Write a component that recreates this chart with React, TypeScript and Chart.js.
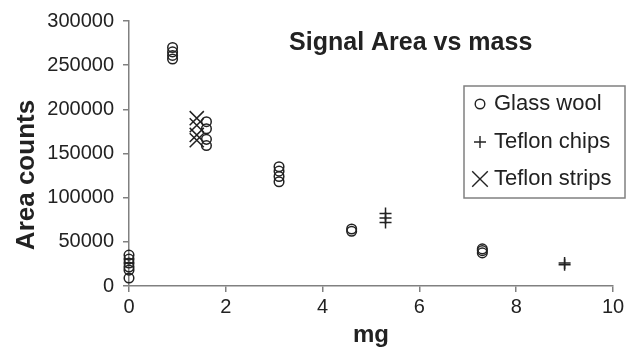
import React, { useEffect, useRef } from "react";
import { Chart, registerables } from "chart.js";

Chart.register(...registerables);

const chartTitle = "Signal Area vs mass";
const xAxisTitle = "mg";
const yAxisTitle = "Area counts";

const glassWoolMass = [0, 0, 0, 0, 0, 0, 0.9, 0.9, 0.9, 0.9, 1.6, 1.6, 1.6, 1.6, 3.1, 3.1, 3.1, 3.1, 4.6, 4.6, 7.3, 7.3, 7.3];
const glassWoolArea = [9000, 18000, 21500, 26000, 30500, 35000, 257000, 261000, 265000, 270000, 159000, 166000, 178000, 186000, 118000, 124000, 130000, 135000, 62000, 64500, 37500, 40000, 42000];
const teflonChipsMass = [5.3, 5.3, 5.3, 9.0, 9.0];
const teflonChipsArea = [72000, 77000, 82000, 24000, 26000];
const teflonStripsMass = [1.4, 1.4, 1.4, 1.4];
const teflonStripsArea = [165000, 171000, 182000, 190000];

const seriesLabels = ["Glass wool", "Teflon chips", "Teflon strips"];

const xMin = 0, xMax = 10, xStep = 2;
const yMin = 0, yMax = 300000, yStep = 50000;

const INK = "#222222";
const AXIS = "#808080";
const FONT = "'Liberation Sans', Arial, sans-serif";

function toPoints(xs: number[], ys: number[]) {
  return xs.map((x, i) => ({ x, y: ys[i] }));
}

function drawMarker(ctx: CanvasRenderingContext2D, style: string, cx: number, cy: number, r: number) {
  ctx.beginPath();
  if (style === "circle") {
    ctx.arc(cx, cy, r, 0, Math.PI * 2);
  } else if (style === "cross") {
    ctx.moveTo(cx - r, cy);
    ctx.lineTo(cx + r, cy);
    ctx.moveTo(cx, cy - r);
    ctx.lineTo(cx, cy + r);
  } else {
    const d = r * Math.SQRT1_2;
    ctx.moveTo(cx - d, cy - d);
    ctx.lineTo(cx + d, cy + d);
    ctx.moveTo(cx - d, cy + d);
    ctx.lineTo(cx + d, cy - d);
  }
  ctx.stroke();
}

const overlayPlugin = {
  id: "overlay",
  afterDraw(chart: any) {
    const ctx: CanvasRenderingContext2D = chart.ctx;
    const area = chart.chartArea;
    ctx.save();
    ctx.fillStyle = INK;
    // Title inside plot
    ctx.font = `bold 25px ${FONT}`;
    ctx.textAlign = "center";
    ctx.textBaseline = "middle";
    ctx.fillText(chartTitle, area.left + (area.right - area.left) * 0.582, area.top + 22);
    // X axis title
    ctx.font = `bold 24px ${FONT}`;
    ctx.fillText(xAxisTitle, (area.left + area.right) / 2, area.bottom + 49);
    // Y axis title
    ctx.save();
    ctx.translate(27, area.top + 154);
    ctx.rotate(-Math.PI / 2);
    ctx.font = `bold 26px ${FONT}`;
    ctx.fillText(yAxisTitle, 0, 0);
    ctx.restore();

    // Legend box
    const bx = area.right - 149, by = area.top + 65, bw = 161, bh = 112;
    ctx.strokeStyle = AXIS;
    ctx.lineWidth = 1.5;
    ctx.strokeRect(bx, by, bw, bh);
    ctx.font = `22px ${FONT}`;
    ctx.textAlign = "left";
    ctx.textBaseline = "middle";
    const rowY = [by + 18, by + 56, by + 93];
    chart.data.datasets.forEach((ds: any, i: number) => {
      const y = rowY[i];
      ctx.strokeStyle = INK;
      ctx.lineWidth = 1.4;
      const r = ds.pointStyle === "circle" ? 4.8 : ds.pointStyle === "cross" ? 6 : 11;
      drawMarker(ctx, ds.pointStyle, bx + 16, y, r);
      ctx.fillStyle = INK;
      ctx.fillText(ds.label, bx + 30, y);
    });
    ctx.restore();
  },
};

export default function App() {
  const canvasRef = useRef<HTMLCanvasElement | null>(null);

  useEffect(() => {
    document.body.style.margin = "0";
    const canvas = canvasRef.current;
    if (!canvas) return;
    const chart = new Chart(canvas, {
      type: "scatter",
      data: {
        datasets: [
          {
            label: seriesLabels[0],
            data: toPoints(glassWoolMass, glassWoolArea),
            pointStyle: "circle",
            pointRadius: 4.8,
            pointBorderWidth: 1.5,
            borderColor: INK,
            backgroundColor: "rgba(0,0,0,0)",
            clip: false,
          },
          {
            label: seriesLabels[1],
            data: toPoints(teflonChipsMass, teflonChipsArea),
            pointStyle: "cross",
            pointRadius: 6,
            pointBorderWidth: 1.5,
            borderColor: INK,
            backgroundColor: "rgba(0,0,0,0)",
            clip: false,
          },
          {
            label: seriesLabels[2],
            data: toPoints(teflonStripsMass, teflonStripsArea),
            pointStyle: "crossRot",
            pointRadius: 10,
            pointBorderWidth: 1.5,
            borderColor: INK,
            backgroundColor: "rgba(0,0,0,0)",
            clip: false,
          },
        ],
      },
      options: {
        responsive: false,
        animation: false,
        events: [],
        layout: { padding: { left: 0, top: 20, right: 15, bottom: 0 } },
        plugins: {
          legend: { display: false },
          title: { display: false },
          tooltip: { enabled: false },
        },
        scales: {
          x: {
            type: "linear",
            min: xMin,
            max: xMax,
            ticks: { stepSize: xStep, color: INK, font: { family: FONT, size: 20 }, padding: 3, maxRotation: 0, callback: (v: any) => String(v) },
            grid: { display: true, drawOnChartArea: false, drawTicks: true, tickLength: 6, color: AXIS, lineWidth: 1.5 },
            border: { display: true, color: AXIS, width: 1.5 },
            afterFit: (scale: any) => { scale.height = 65; },
          },
          y: {
            type: "linear",
            min: yMin,
            max: yMax,
            ticks: { stepSize: yStep, color: INK, font: { family: FONT, size: 20 }, padding: 9, callback: (v: any) => String(v) },
            grid: { display: true, drawOnChartArea: false, drawTicks: true, tickLength: 6, color: AXIS, lineWidth: 1.5 },
            border: { display: true, color: AXIS, width: 1.5 },
            afterFit: (scale: any) => { scale.width = 129; },
          },
        },
      },
      plugins: [overlayPlugin],
    });
    return () => chart.destroy();
  }, []);

  return (
    <div style={{ width: 628, height: 351, background: "#fff" }}>
      <canvas ref={canvasRef} width={628} height={351} />
    </div>
  );
}
